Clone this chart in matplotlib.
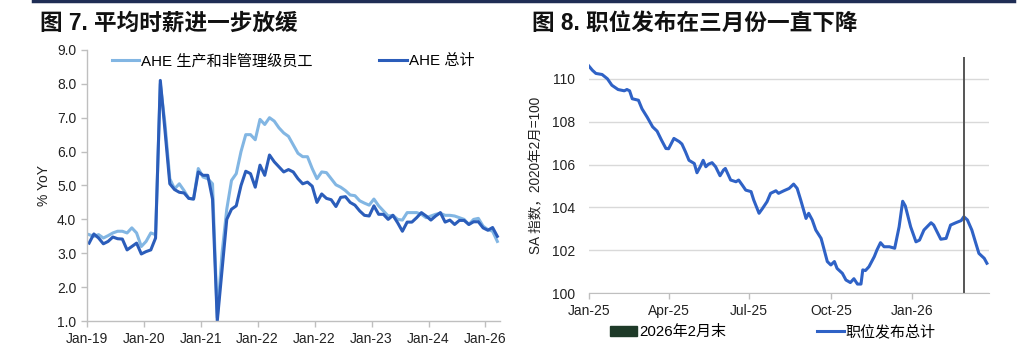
import matplotlib
matplotlib.use("Agg")
import matplotlib.pyplot as plt
from matplotlib.lines import Line2D
from matplotlib.patches import Patch
import numpy as np
import pandas as pd

plt.rcParams['font.family'] = ['Liberation Sans', 'Noto Sans CJK SC', 'DejaVu Sans']

# ---- chart 7: AHE % YoY, monthly Jan-19 .. Mar-26
ahe_total = [3.3, 3.57, 3.45, 3.28, 3.35, 3.48, 3.43, 3.42, 3.1, 3.2,
             3.3, 2.98, 3.05, 3.1, 3.45, 8.1, 6.6, 5.05, 4.88, 4.8,
             4.78, 4.62, 4.6, 5.4, 5.3, 5.3, 4.6, 1.0, 2.5, 4.0,
             4.3, 4.4, 5.0, 5.42, 5.35, 4.95, 5.6, 5.3, 5.9, 5.7,
             5.55, 5.4, 5.47, 5.4, 5.2, 5.05, 5.1, 4.98, 4.5, 4.75,
             4.62, 4.58, 4.38, 4.65, 4.67, 4.5, 4.42, 4.25, 4.12, 4.1,
             4.4, 4.15, 4.15, 4.0, 4.12, 3.9, 3.65, 3.92, 3.92, 4.05,
             4.2, 4.1, 3.98, 4.1, 4.2, 3.92, 3.98, 3.85, 3.97, 3.97,
             3.85, 3.93, 3.93, 3.75, 3.68, 3.76, 3.5]
ahe_prod = [3.55, 3.5, 3.55, 3.45, 3.52, 3.6, 3.65, 3.65, 3.6, 3.75,
            3.6, 3.2, 3.35, 3.6, 3.55, 8.0, 6.8, 5.2, 4.9, 5.05,
            4.85, 4.62, 4.6, 5.5, 5.25, 5.2, 5.05, 1.1, 3.0, 4.3,
            5.15, 5.35, 6.0, 6.5, 6.5, 6.35, 6.95, 6.8, 7.0, 6.9,
            6.7, 6.55, 6.45, 6.2, 5.95, 5.85, 5.85, 5.5, 5.2, 5.4,
            5.38, 5.2, 5.02, 4.95, 4.85, 4.72, 4.7, 4.55, 4.48, 4.42,
            4.6, 4.4, 4.25, 4.1, 4.12, 4.0, 3.98, 4.2, 4.2, 4.2,
            4.15, 4.05, 4.1, 4.15, 4.18, 4.12, 4.12, 4.1, 4.05, 4.0,
            3.85, 4.0, 4.03, 3.8, 3.7, 3.65, 3.35]
left_ticklabels = ["Jan-19", "Jan-20", "Jan-21", "Jan-22", "Jan-22",
                   "Jan-23", "Jan-24", "Jan-26"]

# ---- chart 8: job postings index, days since 2025-01-01
post_days = [0, 4, 8, 15, 21, 26, 33, 40, 43, 46, 49, 56, 60, 66, 72, 77,
             82, 87, 90, 96, 102, 105, 109, 113, 119, 122, 126, 129, 132,
             135, 139, 143, 148, 152, 154, 160, 166, 169, 173, 177, 183,
             186, 192, 196, 201, 205, 211, 214, 220, 226, 231, 235, 239,
             245, 248, 252, 256, 262, 265, 269, 273, 277, 280, 286, 290,
             295, 299, 303, 307, 309, 312, 316, 322, 325, 329, 333, 339,
             345, 350, 354, 357, 363, 369, 373, 378, 386, 389, 397, 403,
             408, 414, 420, 423, 427, 432, 436, 440, 446, 449]
post_vals = [110.6, 110.4, 110.25, 110.2, 110.0, 109.7, 109.5, 109.44,
             109.5, 109.44, 109.07, 109.0, 108.6, 108.2, 107.76, 107.56,
             107.14, 106.75, 106.74, 107.22, 107.07, 106.96, 106.6, 106.2,
             106.05, 105.62, 105.93, 106.2, 105.9, 106.02, 106.09, 105.9,
             105.48, 105.75, 105.82, 105.28, 105.2, 105.28, 105.05, 104.81,
             104.74, 104.35, 103.73, 103.96, 104.27, 104.66, 104.78, 104.66,
             104.78, 104.89, 105.09, 104.89, 104.35, 103.49, 103.73, 103.42,
             102.95, 102.56, 102.1, 101.48, 101.32, 101.48, 101.16, 100.93,
             100.62, 100.5, 100.68, 100.43, 100.43, 101.09, 101.06, 101.24,
             101.71, 102.02, 102.36, 102.17, 102.17, 102.1, 103.1, 104.29,
             104.07, 103.1, 102.4, 102.48, 102.95, 103.29, 103.18, 102.52,
             102.56, 103.18, 103.29, 103.39, 103.57, 103.42, 102.95, 102.4,
             101.86, 101.63, 101.4]
right_ticks = ["2025-01-01", "2025-04-01", "2025-07-01", "2025-10-01", "2026-01-01"]
right_ticklabels = ["Jan-25", "Apr-25", "Jul-25", "Oct-25", "Jan-26"]
feb_end = "2026-02-28"

dark_blue = "#2B5DBA"
light_blue = "#82B6E3"
post_blue = "#2F62C6"
axis_gray = "#BFBFBF"

fig = plt.figure(figsize=(10.24, 3.54), dpi=100)

# top rule
fig.add_artist(Line2D([0.032, 0.99], [0.997, 0.997], color="#1F2D55", lw=2.5))

fig.text(0.039, 0.935, "图 7. 平均时薪进一步放缓", fontsize=16.3, fontweight="bold",
         va="center", ha="left", color="#111111")
fig.text(0.520, 0.935, "图 8. 职位发布在三月份一直下降", fontsize=16.3, fontweight="bold",
         va="center", ha="left", color="#111111")

# ---------------- left chart
ax1 = fig.add_axes([0.0847, 0.093, 0.4033, 0.766])
x = np.arange(len(ahe_total)) + 0.5
ax1.plot(x, ahe_prod, color=light_blue, lw=2.2, label="AHE 生产和非管理级员工")
ax1.plot(x, ahe_total, color=dark_blue, lw=2.2, label="AHE 总计")
ax1.set_xlim(0, 87)
ax1.set_ylim(1.0, 9.0)
ax1.set_yticks(np.arange(1, 9.5, 1.0))
ax1.set_yticklabels([f"{v:.1f}" for v in np.arange(1, 9.5, 1.0)])
ax1.set_xticks(np.arange(0, 85, 12))
ax1.set_xticklabels(left_ticklabels)
for s in ["top", "right"]:
    ax1.spines[s].set_visible(False)
for s in ["left", "bottom"]:
    ax1.spines[s].set_color(axis_gray)
    ax1.spines[s].set_linewidth(1.0)
ax1.tick_params(axis="both", colors=axis_gray, labelcolor="#222222",
                labelsize=10, length=4, width=1.0)
ax1.tick_params(axis="x", pad=4)
ax1.set_ylabel("% YoY", fontsize=10, color="#222222", labelpad=4)
ax1.legend(loc="upper center", bbox_to_anchor=(0.5, 1.035), ncol=2, frameon=False,
           fontsize=10.9, handlelength=1.8, handletextpad=0.15, columnspacing=4.4)

# ---------------- right chart
ax2 = fig.add_axes([0.575, 0.1715, 0.3905, 0.6665])
dates = pd.Timestamp("2025-01-01") + pd.to_timedelta(post_days, unit="D")
ax2.plot(dates, post_vals, color=post_blue, lw=2.2)
ax2.axvline(pd.Timestamp(feb_end), color="#555555", lw=1.4)
ax2.set_xlim(pd.Timestamp("2025-01-01"), pd.Timestamp("2026-03-28"))
ax2.set_ylim(100, 111)
ax2.set_yticks(np.arange(100, 111, 2))
ax2.set_xticks(pd.to_datetime(right_ticks))
ax2.set_xticklabels(right_ticklabels)
ax2.grid(axis="y", color="#D9D9D9", lw=1.0)
ax2.set_axisbelow(True)
for s in ["top", "right", "left"]:
    ax2.spines[s].set_visible(False)
ax2.spines["bottom"].set_color(axis_gray)
ax2.tick_params(axis="y", length=0, labelsize=10, labelcolor="#222222", pad=10)
ax2.tick_params(axis="x", colors=axis_gray, labelcolor="#222222", labelsize=10,
                length=4, width=1.0)
ax2.set_ylabel("SA 指数，2020年2月=100", fontsize=9.8, color="#222222", labelpad=6)

handles = [Patch(facecolor="#1E3A28", edgecolor="#1E3A28"),
           Line2D([0], [0], color=post_blue, lw=2.2)]
fig.legend(handles, ["2026年2月末", "职位发布总计"], loc="center",
           bbox_to_anchor=(0.755, 0.062), ncol=2, frameon=False, fontsize=10.8,
           handlelength=1.8, handleheight=0.6, handletextpad=0.15, columnspacing=6.0)

fig.savefig("out.png", dpi=100)
